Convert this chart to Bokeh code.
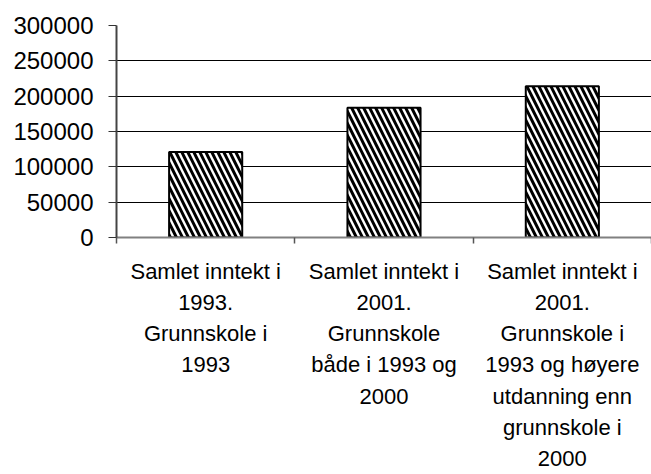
from bokeh.plotting import figure
from bokeh.models import FixedTicker, Range1d, ColumnDataSource
from bokeh.embed import file_html
from bokeh.resources import INLINE

# ---- data ----
categories = [
    "Samlet inntekt i\n1993.\nGrunnskole i\n1993",
    "Samlet inntekt i\n2001.\nGrunnskole\nbåde i 1993 og\n2000",
    "Samlet inntekt i\n2001.\nGrunnskole i\n1993 og høyere\nutdanning enn\ngrunnskole i\n2000",
]
values = [121000, 183500, 214000]
y_ticks = [0, 50000, 100000, 150000, 200000, 250000, 300000]

positions = [i + 0.5 for i in range(len(categories))]
source = ColumnDataSource(dict(x=positions, top=values))

p = figure(width=651, height=474, output_backend="svg", toolbar_location=None,
           x_range=Range1d(0, len(categories)), y_range=Range1d(0, 300000),
           min_border_left=116, min_border_top=25, min_border_right=0,
           min_border_bottom=237)
p.outline_line_color = None
p.background_fill_color = "white"
p.border_fill_color = "white"

p.vbar(x="x", top="top", width=0.41, bottom=0, source=source,
       fill_color="white", line_color="black", line_width=2,
       hatch_pattern="\\", hatch_color="black", hatch_weight=3, hatch_scale=12)

# y axis
p.yaxis.ticker = FixedTicker(ticks=y_ticks)
p.yaxis.major_label_text_font = "Liberation Sans"
p.yaxis.major_label_text_font_size = "24px"
p.yaxis.major_label_text_color = "black"
p.yaxis.major_tick_out = 8
p.yaxis.major_tick_in = 0
p.yaxis.major_tick_line_color = "#333333"
p.yaxis.minor_tick_line_color = None
p.yaxis.axis_line_color = "#444444"
p.yaxis.axis_line_width = 2
p.yaxis.major_label_standoff = 15
p.yaxis.formatter.use_scientific = False

# x axis
p.xaxis.ticker = FixedTicker(ticks=positions,
                             minor_ticks=list(range(len(categories) + 1)))
p.xaxis.major_label_overrides = {pos: lab for pos, lab in zip(positions, categories)}
p.xaxis.major_label_text_font = "Liberation Sans"
p.xaxis.major_label_text_font_size = "22px"
p.xaxis.major_label_text_color = "black"
p.xaxis.major_label_text_line_height = 1.25
p.xaxis.major_tick_line_color = None
p.xaxis.major_tick_out = 0
p.xaxis.major_tick_in = 0
p.xaxis.minor_tick_out = 6
p.xaxis.minor_tick_in = 0
p.xaxis.minor_tick_line_color = "#555555"
p.xaxis.minor_tick_line_width = 1.5
p.xaxis.axis_line_color = "#808080"
p.xaxis.axis_line_width = 2
p.xaxis.major_label_standoff = 15

p.xgrid.grid_line_color = None
p.ygrid.ticker = FixedTicker(ticks=y_ticks)
p.ygrid.grid_line_color = "black"
p.ygrid.grid_line_width = 1

open("out.html", "w").write(file_html(p, INLINE))
